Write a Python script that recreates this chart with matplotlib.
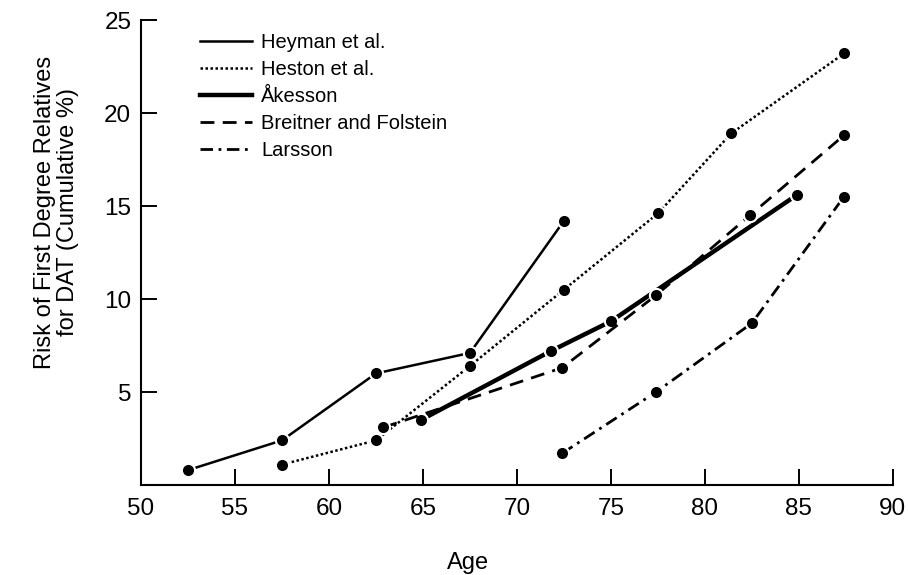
import matplotlib
matplotlib.use("Agg")
from matplotlib import pyplot as plt
from matplotlib.lines import Line2D

plt.rcParams['font.family'] = ['Liberation Sans', 'DejaVu Sans']

# values
heyman_age = [52.5, 57.5, 62.5, 67.5, 72.5]
heyman_risk = [0.8, 2.4, 6.0, 7.1, 14.2]

heston_age = [57.5, 62.5, 67.5, 72.5, 77.5, 81.4, 87.4]
heston_risk = [1.1, 2.4, 6.4, 10.5, 14.6, 18.9, 23.2]

akesson_age = [64.9, 71.8, 75.0, 84.9]
akesson_risk = [3.5, 7.2, 8.8, 15.6]

breitner_age = [62.9, 72.4, 77.4, 82.4, 87.4]
breitner_risk = [3.1, 6.3, 10.2, 14.5, 18.8]

larsson_age = [72.4, 77.4, 82.5, 87.4]
larsson_risk = [1.7, 5.0, 8.7, 15.5]

x_ticks = [50, 55, 60, 65, 70, 75, 80, 85, 90]
y_ticks = [5, 10, 15, 20, 25]

series = [
    (heyman_age, heyman_risk, 'Heyman et al.', '-', 1.8),
    (heston_age, heston_risk, 'Heston et al.', (0, (1, 1)), 1.8),
    (akesson_age, akesson_risk, 'Åkesson', '-', 3.2),
    (breitner_age, breitner_risk, 'Breitner and Folstein', (0, (5, 3)), 2.0),
    (larsson_age, larsson_risk, 'Larsson', (0, (4.5, 2, 1, 2)), 2.0),
]

fig = plt.figure(figsize=(9.08, 5.75), dpi=100)
ax = fig.add_axes([0.1553, 0.1565, 0.828, 0.8087])

handles = []
for ages, risks, name, style, width in series:
    ax.plot(ages, risks, color='black', linestyle=style, linewidth=width,
            marker='o', markersize=9.5, markerfacecolor='black',
            markeredgecolor='white', markeredgewidth=1.5)
    handles.append(Line2D([], [], color='black', linestyle=style,
                          linewidth=width, label=name))

ax.set_xlim(50, 90)
ax.set_ylim(0, 25)
ax.set_xticks(x_ticks)
ax.set_yticks(y_ticks)
ax.spines['top'].set_visible(False)
ax.spines['right'].set_visible(False)
for side in ['left', 'bottom']:
    ax.spines[side].set_linewidth(1.5)
ax.tick_params(direction='in', length=11.5, width=1.4, labelsize=17.5,
               colors='black')
ax.tick_params(axis='x', pad=9)
ax.tick_params(axis='y', pad=7)

ax.set_xlabel('Age', fontsize=17)
ax.xaxis.set_label_coords(0.435, -0.145)
ax.set_ylabel('Risk of First Degree Relatives\nfor DAT (Cumulative %)',
              fontsize=17, linespacing=1.05)
ax.yaxis.set_label_coords(-0.083, 0.587)

ax.legend(handles=handles, loc='upper left', bbox_to_anchor=(0.078, 0.972),
          frameon=False, fontsize=14.5, handlelength=2.6, handletextpad=0.45,
          labelspacing=0.4, borderpad=0, borderaxespad=0)

fig.savefig('out.png', dpi=100)
